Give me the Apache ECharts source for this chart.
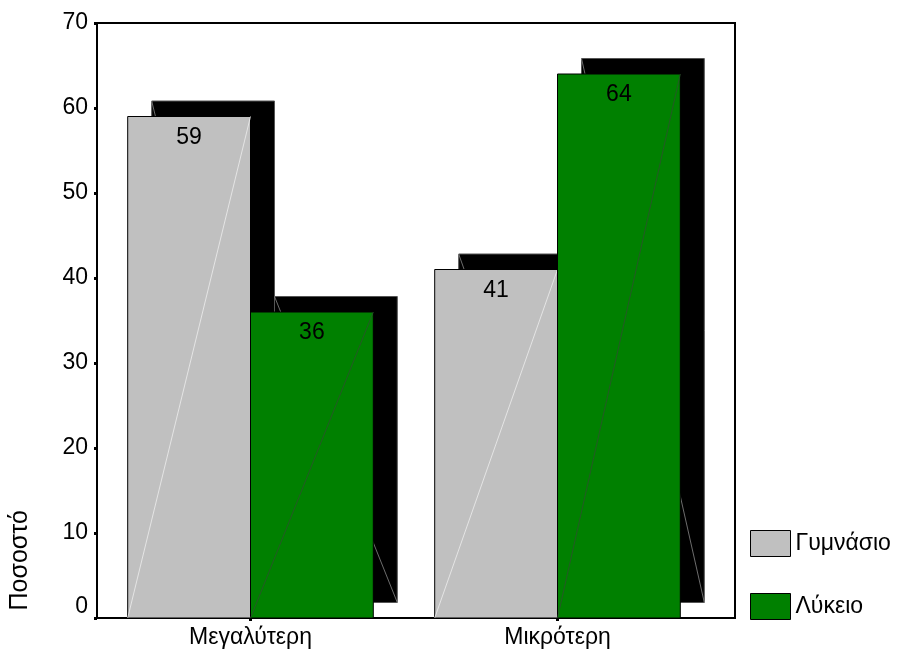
<!DOCTYPE html>
<html>
<head>
<meta charset="utf-8">
<script src="https://cdn.jsdelivr.net/npm/echarts@6/dist/echarts.min.js"></script>
<style>html,body{margin:0;padding:0;background:#fff;}#c{width:897px;height:654px;}</style>
</head>
<body>
<div id="c"></div>
<script>
var categories = ['Μεγαλύτερη', 'Μικρότερη'];
var seriesNames = ['Γυμνάσιο', 'Λύκειο'];
var gymnasio = [59, 41];
var lykeio = [36, 64];
var yTicks = [0, 10, 20, 30, 40, 50, 60, 70];
var yAxisTitle = 'Ποσοστό';

var FONT = '"Liberation Sans", Arial, sans-serif';
var colors = ['#c0c0c0', '#008000'];
var diagColors = ['#eeeeee', '#2f4f2f'];

function makeRender(si) {
  return function (params, api) {
    var cat = api.value(0);
    var val = api.value(1);
    var center = api.coord([cat, val]);
    var base = api.coord([cat, 0]);
    var band = api.size([1, 0])[0];
    var bw = band * 0.4;
    var x0 = si === 0 ? center[0] - bw : center[0];
    var top = center[1];
    var bottom = base[1];
    var h = bottom - top;
    var dx = 24, dy = -15.5;
    var sx = x0 + dx, sy = top + dy;
    return {
      type: 'group',
      children: [
        { type: 'rect', shape: { x: sx, y: sy, width: bw, height: h },
          style: { fill: '#000', stroke: '#555', lineWidth: 1 } },
        { type: 'line', shape: { x1: sx, y1: sy, x2: sx + bw, y2: sy + h },
          style: { stroke: '#888', lineWidth: 0.8 } },
        { type: 'rect', shape: { x: x0, y: top, width: bw, height: h },
          style: { fill: colors[si], stroke: '#000', lineWidth: 1 } },
        { type: 'line', shape: { x1: x0, y1: bottom, x2: x0 + bw, y2: top },
          style: { stroke: diagColors[si], lineWidth: 0.8 } },
        { type: 'text', x: x0 + bw / 2, y: top + 21,
          style: { text: String(val), fill: '#000', font: '23px ' + FONT,
                   textAlign: 'center', textVerticalAlign: 'middle' } }
      ]
    };
  };
}

function toData(arr) {
  return arr.map(function (v, i) { return [i, v]; });
}

var chart = echarts.init(document.getElementById('c'), null, { renderer: 'canvas' });
chart.setOption({
  animation: false,
  backgroundColor: '#fff',
  textStyle: { fontFamily: FONT },
  grid: [
    { left: 97, top: 23, width: 614, bottom: 36, show: false },
    { left: 97, top: 23, right: 162, bottom: 36, show: true,
      borderColor: '#000', borderWidth: 2, backgroundColor: 'transparent' }
  ],
  xAxis: [
    { type: 'category', gridIndex: 0, data: categories,
      axisLine: { show: false },
      axisTick: { show: true, alignWithLabel: true, length: 3, lineStyle: { color: '#000', width: 3 } },
      axisLabel: { color: '#000', fontSize: 23, margin: 8, fontFamily: FONT },
      z: 10 },
    { type: 'value', gridIndex: 1, show: false, min: 0, max: 1 }
  ],
  yAxis: [
    { type: 'value', gridIndex: 0, min: yTicks[0], max: yTicks[yTicks.length - 1], interval: 10,
      splitLine: { show: false },
      axisLine: { show: false },
      axisTick: { show: true, length: 3, lineStyle: { color: '#000', width: 3 } },
      axisLabel: { color: '#000', fontSize: 23, margin: 9, fontFamily: FONT,
        formatter: function (v) { return v === 0 ? '{zero|0}' : String(v); },
        rich: { zero: { fontSize: 23, fontFamily: FONT, color: '#000', padding: [0, 0, 22, 0] } } } },
    { type: 'value', gridIndex: 1, show: false, min: 0, max: 1 }
  ],
  legend: {
    orient: 'vertical', left: 750, top: 530, padding: 0, itemWidth: 40, itemHeight: 26, itemGap: 36,
    icon: 'rect', selectedMode: false,
    itemStyle: { borderColor: '#000', borderWidth: 1 },
    textStyle: { color: '#000', fontSize: 23, fontFamily: FONT },
    data: seriesNames
  },
  graphic: [
    { type: 'text', left: 8, top: 510, rotation: Math.PI / 2,
      style: { text: yAxisTitle, fill: '#000', font: '25px ' + FONT } }
  ],
  series: [
    { name: seriesNames[0], type: 'custom', xAxisIndex: 0, yAxisIndex: 0,
      itemStyle: { color: colors[0] }, renderItem: makeRender(0),
      encode: { x: 0, y: 1 }, data: toData(gymnasio), z: 2 },
    { name: seriesNames[1], type: 'custom', xAxisIndex: 0, yAxisIndex: 0,
      itemStyle: { color: colors[1] }, renderItem: makeRender(1),
      encode: { x: 0, y: 1 }, data: toData(lykeio), z: 3 }
  ]
});
</script>
</body>
</html>
